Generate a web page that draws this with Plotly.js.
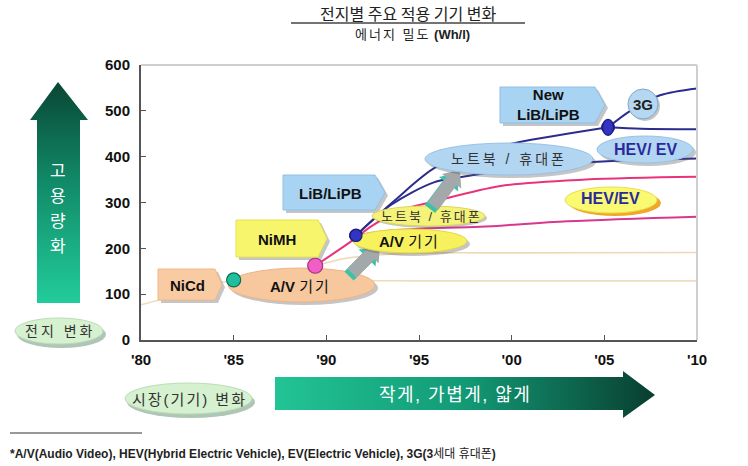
<!DOCTYPE html>
<html><head><meta charset="utf-8">
<script src="https://cdn.plot.ly/plotly-3.0.1.min.js"></script>
<style>html,body{margin:0;padding:0;background:#fff}</style>
</head><body><div id="chart" style="width:748px;height:466px"></div>
<script>
// ---------------- data ----------------
const xTickVals = [1980, 1985, 1990, 1995, 2000, 2005, 2010];
const xTickText = ["'80", "'85", "'90", "'95", "'00", "'05", "'10"];
const yTickVals = [0, 100, 200, 300, 400, 500, 600];

const nicdX = [1980, 1982.5, 1985, 1987, 1990, 1995, 2000, 2010];
const nicdY = [77, 103, 131, 131, 130, 129, 129, 129];

const nimhX = [1989.4, 1991, 1993, 1996, 2000, 2010];
const nimhY = [162, 178, 186, 190, 190, 191];

const pinkUpX = [1989.4, 1991.3, 1992.5, 1994, 1995.8, 1999.4, 2004, 2010];
const pinkUpY = [162, 214, 250, 283, 302, 336, 350, 356];

const pinkLowX = [1991.6, 1993, 1995, 1998.3, 2003, 2010];
const pinkLowY = [228, 237, 243, 247, 259, 269];

const blueTopX = [1991.6, 1993.7, 1995.9, 1998, 2000.3, 2005.2];
const blueTopY = [228, 305, 377, 410, 431, 464];

const blue3gX = [2005.2, 2006.4, 2008, 2010];
const blue3gY = [464, 500, 534, 549];

const blueMidX = [1991.6, 1993.5, 1995.8, 1997.2, 2000, 2004.2, 2010];
const blueMidY = [228, 295, 344, 355, 372, 388, 396];

const blueFlatX = [2005.2, 2007, 2010];
const blueFlatY = [464, 461, 460];

const dotX = [1985, 1989.4, 1991.6, 2005.2];
const dotY = [131, 162, 228, 464];
const dotNames = ['NiCd', 'NiMH', 'LiB/LiPB', 'New LiB/LiPB'];

// ---------------- geometry helpers ----------------
const L = 141, R = 697, T = 65, B = 340;
const X = px => (px - L) / (R - L);
const Y = py => (B - py) / (B - T);
const FONT = 'Liberation Sans, Arial, Noto Sans CJK KR, sans-serif';
const KFONT = 'Noto Sans CJK KR, Liberation Sans, sans-serif';

function poly(pts) {
  return 'M ' + pts.map(p => X(p[0]).toFixed(5) + ',' + Y(p[1]).toFixed(5)).join(' L ') + ' Z';
}
function pathShape(pts, fill, line) {
  return {type: 'path', xref: 'paper', yref: 'paper', path: poly(pts), fillcolor: fill,
          line: line || {width: 0}, layer: 'above'};
}
function ell(x0, y0, x1, y1, fill, line) {
  return {type: 'circle', xref: 'paper', yref: 'paper', x0: X(x0), x1: X(x1), y0: Y(y1), y1: Y(y0),
          fillcolor: fill, line: line || {width: 0}, layer: 'above'};
}
function pent(x0, y0, x1, tip, y1) {
  const ym = (y0 + y1) / 2;
  return [[x0, y0], [x1, y0], [tip, ym], [x1, y1], [x0, y1]];
}
function shift(pts, dx, dy) { return pts.map(p => [p[0] + dx, p[1] + dy]); }
function blockArrow(bx, by, tx, ty, sw, hw, hl) {
  const dx = tx - bx, dy = ty - by, len = Math.hypot(dx, dy);
  const ux = dx / len, uy = dy / len, nx = -uy, ny = ux;
  const hx = tx - ux * hl, hy = ty - uy * hl;
  return [
    [bx + nx * sw / 2, by + ny * sw / 2], [hx + nx * sw / 2, hy + ny * sw / 2],
    [hx + nx * hw / 2, hy + ny * hw / 2], [tx, ty],
    [hx - nx * hw / 2, hy - ny * hw / 2], [hx - nx * sw / 2, hy - ny * sw / 2],
    [bx - nx * sw / 2, by - ny * sw / 2]
  ];
}
function txt(text, px, py, size, color, extra) {
  return Object.assign({xref: 'paper', yref: 'paper', x: X(px), y: Y(py), text: text,
    showarrow: false, xanchor: 'center', yanchor: 'middle',
    font: {family: FONT, size: size, color: color || '#111'}}, extra || {});
}
function sp(s, px) { return '<span style="letter-spacing:' + px + 'px">' + s + '</span>'; }

// ---------------- shapes ----------------
const SH = 'rgba(90,90,90,0.35)';
const shapes = [];
shapes.push({type: 'line', xref: 'paper', yref: 'paper', x0: 0, x1: 1, y0: 1, y1: 1, line: {color: '#cfcfcf', width: 2}});
shapes.push({type: 'line', xref: 'paper', yref: 'paper', x0: 1, x1: 1, y0: 0, y1: 1, line: {color: '#cfcfcf', width: 2}});
shapes.push({type: 'line', xref: 'paper', yref: 'paper', x0: X(291), x1: X(525), y0: Y(23), y1: Y(23), line: {color: '#444', width: 1.5}});
shapes.push({type: 'line', xref: 'paper', yref: 'paper', x0: X(10), x1: X(142), y0: Y(433), y1: Y(433), line: {color: '#333', width: 1}});

shapes.push(ell(17, 321, 106, 348, 'rgba(110,150,120,0.55)'));
shapes.push(ell(15, 318, 103, 344, '#d6f1cf', {color: '#bcdcb8', width: 1}));
shapes.push(ell(127, 386, 255, 418, 'rgba(110,150,120,0.55)'));
shapes.push(ell(125, 383, 252, 414, '#d6f1cf', {color: '#bcdcb8', width: 1}));

const pNiCd = pent(158, 269, 215, 222, 300);
shapes.push(pathShape(shift(pNiCd, 3, 3), SH));
shapes.push(pathShape(pNiCd, '#f9cba3', {color: '#f0b888', width: 1}));
shapes.push(ell(231, 271, 378, 305, SH));
shapes.push(ell(228, 268, 375, 302, '#f7c79e', {color: '#eeb486', width: 1}));

const pNiMH = pent(236, 220, 318, 327, 257);
shapes.push(pathShape(shift(pNiMH, 3, 3), SH));
shapes.push(pathShape(pNiMH, '#f7f56c', {color: '#e6e24e', width: 1}));

const ga1 = blockArrow(352, 273, 380, 245, 13, 24, 14);
shapes.push(pathShape(shift(ga1, -3, 3), '#3cc2a6'));
shapes.push(pathShape(ga1, '#a3a9ab'));

shapes.push(ell(356, 232, 470, 256, SH));
shapes.push(ell(353, 229, 467, 253, '#f7f15e', {color: '#e0d84a', width: 1}));

const pLiB = pent(283, 175, 375, 385, 210);
shapes.push(pathShape(shift(pLiB, 3, 3), SH));
shapes.push(pathShape(pLiB, '#a9d3f3', {color: '#8fc0e6', width: 1}));
shapes.push(ell(374, 208, 487, 228, SH));
shapes.push(ell(372, 206, 485, 226, '#f5f27a', {color: '#dcd65a', width: 1}));

const ga2 = blockArrow(433, 206, 460, 170, 13, 24, 14);
shapes.push(pathShape(shift(ga2, -3, 3), '#3cc2a6'));
shapes.push(pathShape(ga2, '#a3a9ab'));

shapes.push(ell(428, 146, 596, 178, SH));
shapes.push(ell(425, 143, 593, 175, '#b2d5f1', {color: '#98c2e6', width: 1}));

const pNew = pent(500, 87, 595, 605, 123);
shapes.push(pathShape(shift(pNew, 3, 3), SH));
shapes.push(pathShape(pNew, '#a9d3f3', {color: '#8fc0e6', width: 1}));

shapes.push(ell(600, 139, 696, 166, SH));
shapes.push(ell(597, 136, 693, 163, '#b2d5f1', {color: '#98c2e6', width: 1}));
shapes.push(ell(569, 190, 661, 216, '#f2a629'));
shapes.push(ell(565, 187, 657, 213, '#fafa72', {color: '#e8e050', width: 1}));
shapes.push(ell(630, 91, 660, 121, SH));
shapes.push(ell(628, 89, 658, 119, '#b6d7f1', {color: '#7fa8c8', width: 1}));

const dotFill = ['#1fbf9d', '#f05ec6', '#3434c4', '#3434c4'];
const dotLine = ['#0b6a55', '#a8307f', '#1c1c78', '#1c1c78'];
const dotRX = [7, 7.5, 6, 5.5];
const dotRY = [7, 7.5, 6, 8];
dotX.forEach((dx, i) => {
  shapes.push({type: 'circle', xref: 'x', yref: 'y', xsizemode: 'pixel', ysizemode: 'pixel',
    xanchor: dx, yanchor: dotY[i], x0: -dotRX[i], x1: dotRX[i], y0: -dotRY[i], y1: dotRY[i],
    fillcolor: dotFill[i], line: {color: dotLine[i], width: 1.2}, layer: 'above'});
});

// ---------------- gradient arrows (images) ----------------
function svgURI(s) { return 'data:image/svg+xml;charset=utf-8,' + encodeURIComponent(s); }
const vArrow = '<svg xmlns="http://www.w3.org/2000/svg" width="62" height="225" viewBox="0 0 62 225">' +
  '<defs><linearGradient id="g" x1="0" y1="0" x2="0" y2="1">' +
  '<stop offset="0" stop-color="#0a4634"/><stop offset="0.45" stop-color="#118a68"/><stop offset="1" stop-color="#22cc9a"/></linearGradient></defs>' +
  '<polygon points="30,2 60,40 52,40 52,223 9,223 9,40 2,40" fill="url(#g)"/></svg>';
const hArrow = '<svg xmlns="http://www.w3.org/2000/svg" width="385" height="52" viewBox="0 0 385 52">' +
  '<defs><linearGradient id="g" x1="0" y1="0" x2="1" y2="0">' +
  '<stop offset="0" stop-color="#22c496"/><stop offset="0.5" stop-color="#129a76"/><stop offset="1" stop-color="#093e2f"/></linearGradient></defs>' +
  '<polygon points="2,8 350,8 350,2 382,26 350,49 350,41 2,41" fill="url(#g)"/></svg>';
const images = [
  {source: svgURI(vArrow), xref: 'paper', yref: 'paper', x: X(28), y: Y(80), sizex: 62 / (R - L), sizey: 225 / (B - T),
   xanchor: 'left', yanchor: 'top', sizing: 'stretch', layer: 'above'},
  {source: svgURI(hArrow), xref: 'paper', yref: 'paper', x: X(273), y: Y(369), sizex: 385 / (R - L), sizey: 52 / (B - T),
   xanchor: 'left', yanchor: 'top', sizing: 'stretch', layer: 'above'}
];

// ---------------- annotations ----------------
const ann = [];
ann.push(txt('전지별 주요 적용 기기 변화', 408, 13, 16, '#222', {font: {family: KFONT, size: 16, color: '#222'}}));
ann.push(txt(sp('에너지 밀도', 2) + ' <b>(Wh/l)</b>', 412, 35, 13, '#222'));
['고', '용', '량', '화'].forEach((c, i) => ann.push(txt(c, 58, 171 + i * 25, 17, '#ffffff')));
ann.push(txt(sp('전지 변화', 3), 60, 331, 14, '#333'));
ann.push(txt(sp('시장(기기) 변화', 2), 189, 399, 15, '#333'));
ann.push(txt(sp('작게, 가볍게, 얇게', 1.5), 455, 395, 18, '#ffffff'));
ann.push(txt('<b>NiCd</b>', 187, 285, 15));
ann.push(txt('<b>A/V</b> ' + sp('기기', 2), 300, 286, 15));
ann.push(txt('<b>NiMH</b>', 277, 239, 15));
ann.push(txt('<b>A/V</b> ' + sp('기기', 2), 409, 241, 15));
ann.push(txt('<b>LiB/LiPB</b>', 330, 193, 15));
ann.push(txt(sp('노트북 / 휴대폰', 2), 431, 216, 13, '#333'));
ann.push(txt(sp('노트북 / 휴대폰', 3), 509, 159, 14, '#333'));
ann.push(txt('<b>New</b><br><b>LiB/LiPB</b>', 548, 104, 15));
ann.push(txt('<b>3G</b>', 643, 104, 15, '#222'));
ann.push(txt('<b>HEV/ EV</b>', 645, 149, 16, '#2a2a9c'));
ann.push(txt('<b>HEV/EV</b>', 610, 198, 16, '#2a2a9c'));
ann.push(txt('<b>*A/V(Audio Video), HEV(Hybrid Electric Vehicle), EV(Electric Vehicle), 3G(3</b>세대 휴대폰<b>)</b>',
  8, 454, 12, '#222', {xanchor: 'left'}));

// ---------------- traces ----------------
function line(x, y, color, w, name) {
  return {type: 'scatter', mode: 'lines', x: x, y: y, name: name,
          line: {color: color, width: w, shape: 'spline', smoothing: 0.9}, hoverinfo: 'skip'};
}
const BLUE = '#2c2c8e';
const traces = [
  line(nicdX, nicdY, '#efdcc0', 1.6, 'NiCd'),
  line(nimhX, nimhY, '#f0d8b6', 1.6, 'NiMH'),
  line(pinkLowX, pinkLowY, '#d8378e', 2, 'NiMH/LiB low'),
  line(pinkUpX, pinkUpY, '#e8337a', 2, 'NiMH/LiB'),
  line(blueMidX, blueMidY, BLUE, 2, 'LiB mid'),
  line(blueTopX, blueTopY, BLUE, 2, 'LiB top'),
  line(blue3gX, blue3gY, BLUE, 2, '3G'),
  line(blueFlatX, blueFlatY, BLUE, 2, 'HEV/EV'),
  {type: 'scatter', mode: 'markers', x: dotX, y: dotY, text: dotNames, hoverinfo: 'text',
   marker: {size: 13, color: dotFill, line: {color: dotLine, width: 1}}}
];

const layout = {
  width: 748, height: 466,
  margin: {l: L, r: 748 - R, t: T, b: 466 - B},
  paper_bgcolor: '#ffffff', plot_bgcolor: '#ffffff',
  showlegend: false,
  xaxis: {range: [1980, 2010], tickvals: xTickVals, ticktext: xTickText, showgrid: false, zeroline: false,
    showline: true, linecolor: '#555', linewidth: 2, ticks: 'inside', ticklen: 5, tickcolor: '#555',
    ticklabelstandoff: 5, tickfont: {family: FONT, size: 15, color: '#111', weight: 'bold'}, fixedrange: true},
  yaxis: {range: [0, 600], tickvals: yTickVals, showgrid: false, zeroline: false,
    showline: true, linecolor: '#555', linewidth: 2, ticks: 'inside', ticklen: 5, tickcolor: '#555',
    ticklabelstandoff: 6, tickfont: {family: FONT, size: 15, color: '#111', weight: 'bold'}, fixedrange: true},
  shapes: shapes, annotations: ann, images: images
};
Plotly.newPlot('chart', traces, layout, {displayModeBar: false, staticPlot: true});
</script></body></html>
